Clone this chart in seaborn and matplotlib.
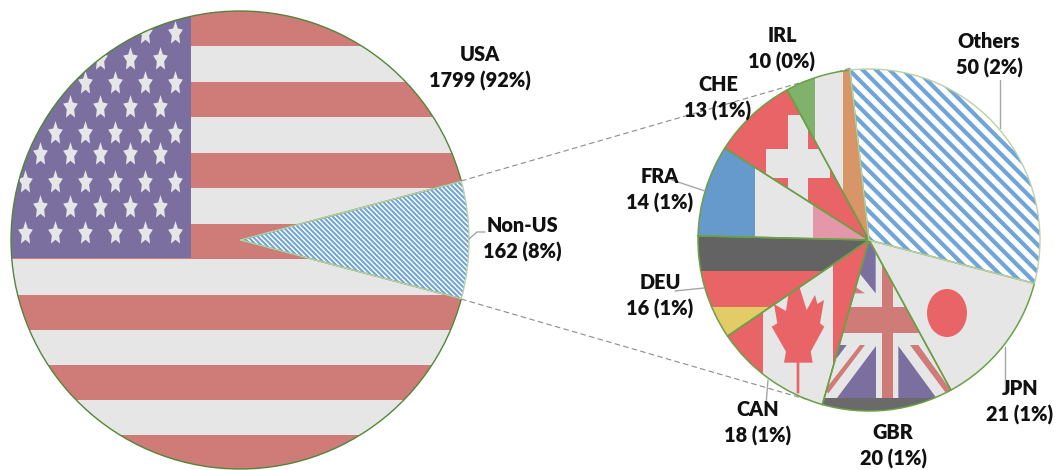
import numpy as np
import matplotlib
matplotlib.use('Agg')
import matplotlib.pyplot as plt
from matplotlib.patches import Rectangle, Polygon, Ellipse, Wedge
from matplotlib.path import Path
from matplotlib.collections import LineCollection
import seaborn as sns

main_labels = ['USA', 'Non-US']
main_values = [1799, 162]
main_pct = ['92%', '8%']

other_labels = ['Others', 'JPN', 'GBR', 'CAN', 'DEU', 'FRA', 'CHE', 'IRL']
other_values = [50, 21, 20, 18, 16, 14, 13, 10]
other_pct = ['2%', '1%', '1%', '1%', '1%', '1%', '1%', '0%']

RED = '#E86466'
DULL_RED = '#CF7B78'
WHITE = '#E6E6E6'
PURPLE = '#7A6F9E'
STRIPE = '#6FA5D8'
LEADER = '#A6A6A6'
TEXT = '#111111'

sns.set_theme(style='white')
plt.rcParams['font.family'] = ['Lato', 'DejaVu Sans']

fig = plt.figure(figsize=(10.6, 4.7), dpi=100)
ax = fig.add_axes([0, 0, 1, 1])


def Y(y):
    # picture rows go down, the axes go up
    return 470 - y


def rect(x0, y0, x1, y1, color, clip):
    r = Rectangle((x0, Y(y1)), x1 - x0, y1 - y0, fc=color, ec='none', zorder=2)
    ax.add_patch(r)
    r.set_clip_path(clip)


def poly(points, color, clip):
    p = Polygon([(680 + x / 3, Y(230 + y / 3)) for x, y in points], fc=color, ec='none', zorder=2)
    ax.add_patch(p)
    p.set_clip_path(clip)


def stripes(wedge, step, width):
    # diagonal stripes running down to the right, kept inside the wedge
    cx, cy = wedge.center
    r = wedge.r
    offs = np.arange(-2.2 * r, 2.2 * r, step)
    segs = [[(cx + o - r * 1.2, cy + r * 1.2), (cx + o + r * 1.2, cy - r * 1.2)] for o in offs]
    lc = LineCollection(segs, colors=STRIPE, linewidths=width, zorder=2)
    ax.add_collection(lc)
    lc.set_clip_path(wedge)


def outline(wedges, color, lw):
    for w in wedges:
        ax.add_patch(Wedge(w.center, w.r, w.theta1, w.theta2, fill=False, ec=color, lw=lw, zorder=3))


# connectors sit behind both pies
ax.plot([461, 851], [Y(181), Y(68)], color='#8C8C8C', lw=0.8, ls=(0, (5, 3)), zorder=0.5)
ax.plot([461, 826], [Y(299), Y(405)], color='#8C8C8C', lw=0.8, ls=(0, (5, 3)), zorder=0.5)

# left pie
start = 180 * main_values[1] / sum(main_values)
left, _ = ax.pie(main_values, startangle=start, center=(240, Y(240)), radius=229,
                 colors=[WHITE, 'white'], wedgeprops={'linewidth': 0}, normalize=True)
usa, non_us = left

for y0 in [11, 82, 153, 224, 295, 365, 435]:
    rect(0, y0, 480, y0 + 35, DULL_RED, usa)
rect(0, 0, 191, 258, PURPLE, usa)

star = Path(Path.unit_regular_star(5, 0.5).vertices * [0.62, 1], closed=False)
rows = [(33, 145), (59, 100), (83, 85), (107, 70), (133, 55), (154, 40), (182, 25), (207, 40), (233, 25)]
for ry, first in rows:
    xs = np.arange(first, 190, 30)
    pts = ax.scatter(xs, [Y(ry)] * len(xs), marker=star, s=324, c=WHITE, linewidths=0, zorder=2.5)
    pts.set_clip_path(usa)

stripes(non_us, 5, 1.5)
outline([usa], '#55843A', 1.0)
outline([non_us], '#BBD2A8', 1.0)

# right pie
right, _ = ax.pie(other_values, startangle=96.4, counterclock=False, center=(869, Y(240)), radius=171,
                  colors=[WHITE] * len(other_values), wedgeprops={'linewidth': 0}, normalize=True)
others, jpn, gbr, can, deu, fra, che, irl = right

others.set_facecolor('white')
stripes(others, 13.5, 3.0)

e = Ellipse((947, Y(313)), 40, 48, fc=RED, ec='none', zorder=2)
ax.add_patch(e)
e.set_clip_path(jpn)

rect(882, 230, 893, 400, DULL_RED, gbr)
rect(820, 307, 960, 333, DULL_RED, gbr)
poly([(587, 0), (587, 190), (450, 20)], PURPLE, gbr)
poly([(525, 170), (555, 190), (525, 190)], DULL_RED, gbr)
poly([(587, 348), (587, 505), (470, 505)], PURPLE, gbr)
poly([(655, 348), (770, 505), (655, 505)], PURPLE, gbr)
poly([(470, 345), (500, 345), (470, 385)], PURPLE, gbr)
poly([(540, 345), (555, 345), (445, 490), (435, 480)], DULL_RED, gbr)
poly([(690, 345), (715, 345), (812, 480), (800, 492)], DULL_RED, gbr)
rect(800, 398, 960, 420, '#6A6A6A', gbr)

rect(700, 240, 763, 420, RED, can)
rect(833, 240, 880, 420, RED, can)
poly([(350, 398), (312, 398), (318, 365), (275, 290), (292, 280), (282, 222), (318, 243), (325, 195),
      (355, 160), (380, 240), (405, 195), (412, 222), (432, 210), (420, 280), (433, 290), (392, 365),
      (398, 398), (358, 398), (358, 490), (350, 490)], RED, can)

rect(690, 230, 880, 271, '#636363', deu)
rect(690, 271, 880, 307, RED, deu)
rect(690, 307, 880, 350, '#E3CB66', deu)

rect(690, 140, 755, 245, '#6699CC', fra)
rect(813, 140, 880, 245, '#E497A8', fra)

rect(720, 80, 880, 245, RED, che)
rect(788, 115, 808, 200, WHITE, che)
rect(766, 149, 830, 178, WHITE, che)

rect(780, 60, 815, 245, '#7FB26A', irl)
rect(843, 60, 880, 245, '#D79568', irl)

outline(right[1:], '#6CA048', 1.1)
outline([others], '#BBD2A8', 1.0)

# leader lines
for xs, ys in [([469, 477, 485], [239, 232, 232]),
               ([1000, 1000], [80, 128]),
               ([672, 705], [180, 191]),
               ([675, 704], [291, 288]),
               ([766, 768], [405, 380]),
               ([1005, 1005], [393, 347])]:
    ax.plot(xs, [Y(v) for v in ys], color=LEADER, lw=1, zorder=3.5)

# labels
label_pos = {'USA': (480, 68), 'Non-US': (522, 239), 'Others': (989, 55), 'JPN': (1020, 402),
             'GBR': (893, 446), 'CAN': (758, 423), 'DEU': (660, 296), 'FRA': (660, 190),
             'CHE': (718, 98), 'IRL': (782, 49)}
for lab, val, pct in zip(main_labels + other_labels, main_values + other_values, main_pct + other_pct):
    x, y = label_pos[lab]
    ax.text(x, Y(y), f'{lab}\n{val} ({pct})', ha='center', va='center', fontsize=14.3,
            fontweight='heavy', color=TEXT, linespacing=1.42, zorder=5)

ax.set_xlim(0, 1060)
ax.set_ylim(0, 470)
ax.axis('off')
fig.savefig('out.png', dpi=100)
plt.close(fig)
